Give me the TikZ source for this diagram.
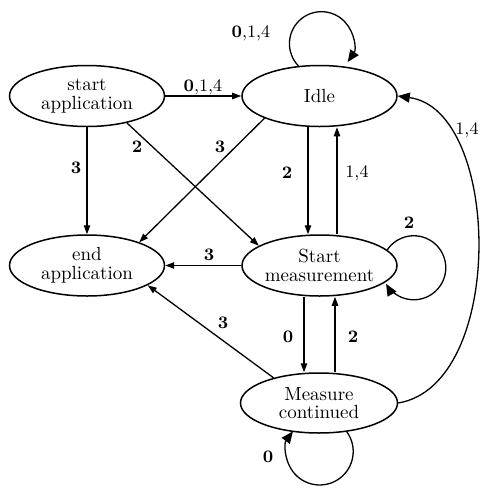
\documentclass[tikz,border=0pt]{standalone}
\usetikzlibrary{shapes.geometric,arrows.meta,calc}
\begin{document}
\begin{tikzpicture}[x=0.5pt,y=0.5pt,
  state/.style={ellipse,draw,line width=0.75pt,minimum width=77.5pt,minimum height=30.5pt,inner sep=0pt,align=center,font=\fontsize{9.5}{9.3}\selectfont},
  lbl/.style={font=\fontsize{8.8}{9}\selectfont,inner sep=0pt},
  tr/.style={line width=0.65pt,-{Triangle[length=4.5pt,width=3.2pt]}},
  big/.style={line width=0.65pt,-{Triangle[length=6pt,width=5pt]}}]
\useasboundingbox (0,0) rectangle (480,-489);
\node[state] (sa) at (87,-96) {start\\application};
\node[state] (idle) at (319.5,-96) {Idle};
\node[state] (ea) at (87,-265.5) {end\\application};
\node[state] (sm) at (319.5,-265.5) {Start\\measurement};
\node[state,minimum width=78.5pt,minimum height=30pt] (mc) at (319,-403) {Measure\\continued};
% connectors
\draw[tr] (sa.east) -- (idle.west);
\draw[tr] (sa.south) -- (ea.north);
\draw[tr] (sa.-34) -- (sm.162);
\draw[tr] (idle.202) -- (ea.24);
\draw[tr] ([xshift=-5.75pt]idle.south) -- ([xshift=-5.75pt]sm.north);
\draw[tr] ([xshift=8.75pt]sm.north) -- ([xshift=8.75pt]idle.south);
\draw[tr] (sm.west) -- (ea.east);
\draw[tr] ([xshift=-7.75pt]sm.south) -- ([xshift=-7.75pt]sm.south |- mc.north);
\draw[tr] ([xshift=7.75pt]sm.south |- mc.north) -- ([xshift=7.75pt]sm.south);
\draw[tr] (mc.151) -- (ea.-18);
\draw[big] (mc.east) .. controls +(108,18) and +(104,-14) .. (idle.east);
% self loops
\draw[big] (idle.125) arc[start angle=224,end angle=-35,radius=32];
\draw[big] (sm.13) arc[start angle=146,end angle=-150,radius=32];
\draw[big] (mc.-46) arc[start angle=36,end angle=-217,radius=33.5];
% labels
\node[lbl] (l1) at (203,-87) {\textbf{0},1,4};
\node[lbl] (l2) at (76,-168) {\textbf{3}};
\node[lbl] (l3) at (137,-147) {\textbf{2}};
\node[lbl] (l4) at (220,-147) {\textbf{3}};
\node[lbl] (l5) at (287,-173) {\textbf{2}};
\node[lbl] (l6) at (357,-173) {1,4};
\node[lbl] (l7) at (209,-255) {\textbf{3}};
\node[lbl] (l8) at (288,-337) {\textbf{0}};
\node[lbl] (l9) at (353,-337) {\textbf{2}};
\node[lbl] (l10) at (223,-323) {\textbf{3}};
\node[lbl] (l11) at (467,-130) {1,4};
\node[lbl] (l12) at (251,-33) {\textbf{0},1,4};
\node[lbl] (l13) at (409,-223) {\textbf{2}};
\node[lbl] (l14) at (268,-457) {\textbf{0}};
\end{tikzpicture}
\end{document}
